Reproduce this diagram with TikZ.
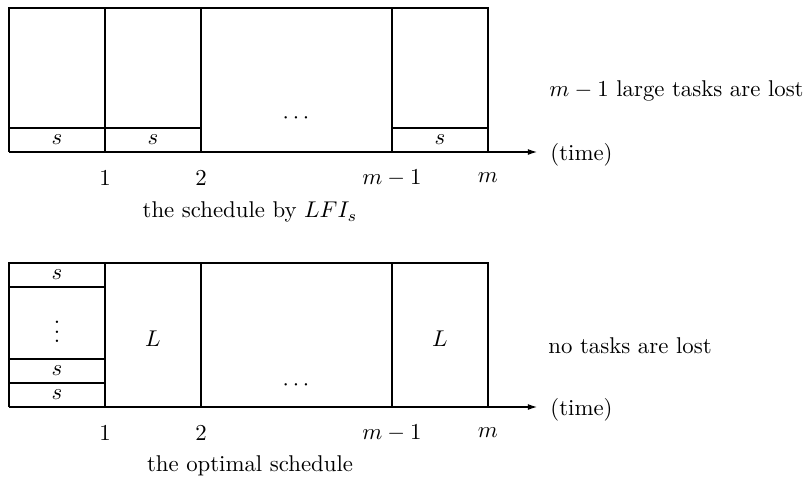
\documentclass[tikz,border=0pt]{standalone}
\usetikzlibrary{arrows.meta}
\begin{document}
\begin{tikzpicture}[x=0.4386pt,y=-0.4386pt,
  box/.style={draw, line width=0.45pt},
  axis/.style={draw, line width=0.45pt, -{Latex[length=4pt,width=2.6pt]}},
  lbl/.style={inner sep=0pt},
  txt/.style={inner sep=0pt, anchor=base west}]
\useasboundingbox (0,0) rectangle (807,478);
% ---------- top schedule ----------
\coordinate (t0) at (9,152);
\coordinate (tend) at (537,152);
\draw[box] (9,152) -- (9,8) -- (488,8) -- (488,152);
\draw[box] (105,8) -- (105,152);
\draw[box] (201,8) -- (201,152);
\draw[box] (392,8) -- (392,152);
\draw[box] (9,128) -- (201,128);
\draw[box] (392,128) -- (488,128);
\draw[axis] (t0) -- (tend);
\node[lbl] (ts1) at (57,140) {$s$};
\node[lbl] (ts2) at (153,140) {$s$};
\node[lbl] (ts3) at (440,140) {$s$};
\node[lbl] (tdots) at (296,118) {$\cdots$};
\node[lbl] (tl1) at (105,178) {$1$};
\node[lbl] (tl2) at (201,178) {$2$};
\node[lbl] (tl3) at (392,178) {$m-1$};
\node[lbl] (tl4) at (488,178) {$m$};
\node[txt] (ttime) at (550,160) {(time)};
\node[txt] (tlost) at (549,96) {$m-1$ large tasks are lost};
\node[lbl] (tcap) at (250,212) {the schedule by $LFI_s$};
% ---------- bottom schedule ----------
\coordinate (b0) at (9,407);
\coordinate (bend) at (537,407);
\draw[box] (9,407) -- (9,263) -- (488,263) -- (488,407);
\draw[box] (105,263) -- (105,407);
\draw[box] (201,263) -- (201,407);
\draw[box] (392,263) -- (392,407);
\draw[box] (9,287) -- (105,287);
\draw[box] (9,359) -- (105,359);
\draw[box] (9,383) -- (105,383);
\draw[axis] (b0) -- (bend);
\node[lbl] (bs1) at (57,275) {$s$};
\node[lbl] (bvd) at (57,325) {$\vdots$};
\node[lbl] (bs2) at (57,371) {$s$};
\node[lbl] (bs3) at (57,395) {$s$};
\node[lbl] (bL1) at (153,339) {$L$};
\node[lbl] (bL2) at (440,339) {$L$};
\node[lbl] (bdots) at (296,385) {$\cdots$};
\node[lbl] (bl1) at (105,433) {$1$};
\node[lbl] (bl2) at (201,433) {$2$};
\node[lbl] (bl3) at (392,433) {$m-1$};
\node[lbl] (bl4) at (488,433) {$m$};
\node[txt] (btime) at (550,415) {(time)};
\node[txt] (blost) at (548,353) {no tasks are lost};
\node[lbl] (bcap) at (250,466) {the optimal schedule};
\end{tikzpicture}
\end{document}
